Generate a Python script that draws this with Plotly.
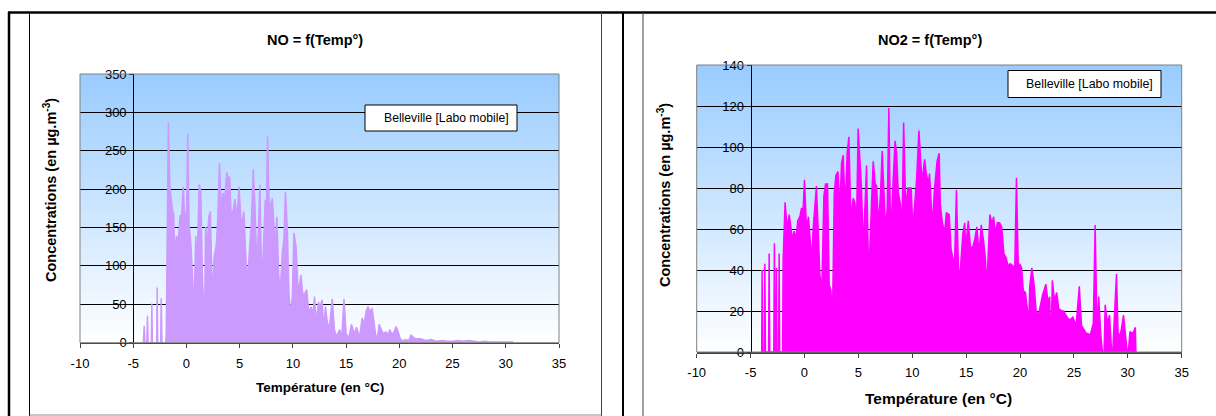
import plotly.graph_objects as go

W, H = 1216, 416

# ---------------- data ----------------
NO_TEMP = [-4.05, -3.97, -3.9, -3.72, -3.66, -3.6, -3.3, -3.25, -3.2, -2.8, -2.75, -2.7,
           -2.42, -2.37, -2.3, -1.95, -1.9, -1.7, -1.56, -1.3, -1.2, -1.1, -0.94, -0.75,
           -0.6, -0.47, -0.3, -0.2, 0.0, 0.12, 0.25, 0.4, 0.56, 0.7, 0.87, 1.0, 1.2, 1.35,
           1.5, 1.7, 1.8, 1.94, 2.1, 2.25, 2.44, 2.6, 2.8, 2.94, 3.1, 3.28, 3.44, 3.6,
           3.78, 3.9, 4.06, 4.2, 4.4, 4.56, 4.75, 4.94, 5.16, 5.4, 5.56, 5.72, 5.94, 6.1,
           6.28, 6.44, 6.6, 6.75, 6.9, 7.06, 7.2, 7.4, 7.5, 7.62, 7.75, 7.9, 8.06, 8.2,
           8.34, 8.5, 8.66, 8.8, 9.0, 9.16, 9.3, 9.47, 9.62, 9.75, 9.94, 10.1, 10.3, 10.5,
           10.75, 10.94, 11.1, 11.3, 11.5, 11.7, 11.9, 12.03, 12.2, 12.4, 12.56, 12.75,
           12.9, 13.06, 13.25, 13.44, 13.7, 13.9, 14.1, 14.4, 14.6, 14.8, 15.0, 15.25,
           15.5, 15.75, 16.0, 16.25, 16.5, 16.7, 16.9, 17.06, 17.25, 17.44, 17.6, 17.8,
           17.97, 18.1, 18.3, 18.5, 18.75, 18.94, 19.1, 19.3, 19.5, 19.7, 19.9, 20.06,
           20.3, 20.56, 20.9, 21.1, 21.4, 21.6, 22.0, 22.5, 23.0, 23.5, 24.0, 24.5, 25.0,
           25.5, 26.0, 26.5, 27.0, 27.5, 28.0, 28.5, 29.0, 29.5, 30.0, 30.65, 30.7]
NO_CONC = [0, 22, 0, 0, 35, 0, 0, 51, 0, 0, 72, 0,
           0, 58, 0, 0, 12, 287, 203, 171, 169, 114, 139, 134,
           166, 164, 203, 173, 156, 272, 153, 132, 90, 38, 139, 106, 206, 197,
           86, 21, 151, 125, 164, 171, 51, 112, 127, 160, 234, 175, 195, 186,
           222, 214, 216, 164, 173, 187, 162, 203, 151, 171, 116, 77, 125, 156,
           226, 177, 103, 143, 206, 90, 112, 186, 164, 269, 190, 173, 188, 160,
           125, 164, 90, 64, 116, 136, 197, 151, 69, 38, 58, 143, 125, 64,
           88, 62, 64, 69, 38, 47, 38, 60, 25, 53, 47, 56,
           17, 47, 25, 21, 57, 17, 8, 17, 8, 57, 12, 6,
           24, 12, 20, 6, 32, 25, 42, 47, 40, 45, 25, 8,
           9, 24, 17, 12, 14, 10, 17, 11, 14, 21, 14, 6,
           2, 4, 3, 10, 6, 5, 5, 3, 4, 2, 3, 2, 2,
           3, 2, 3, 2, 1, 2, 1, 1, 1, 1, 1, 0]

NO2_TEMP = [-3.97, -3.93, -3.88, -3.72, -3.68, -3.62, -3.33, -3.28, -3.22, -2.85, -2.79,
            -2.73, -2.65, -2.6, -2.55, -2.4, -2.35, -2.3, -2.03, -1.98, -1.8, -1.6, -1.42,
            -1.3, -1.11, -0.96, -0.8, -0.62, -0.43, -0.28, -0.12, 0.0, 0.19, 0.37, 0.56,
            0.68, 0.8, 0.96, 1.11, 1.27, 1.42, 1.61, 1.8, 1.95, 2.14, 2.29, 2.45, 2.6,
            2.76, 2.91, 3.1, 3.28, 3.44, 3.59, 3.78, 3.96, 4.12, 4.3, 4.52, 4.67, 4.83,
            4.98, 5.14, 5.29, 5.45, 5.63, 5.76, 5.94, 6.07, 6.29, 6.38, 6.56, 6.69, 6.87,
            7.06, 7.21, 7.37, 7.52, 7.68, 7.83, 7.99, 8.17, 8.4, 8.55, 8.7, 8.9, 9.05, 9.2,
            9.4, 9.6, 9.75, 9.9, 10.05, 10.2, 10.4, 10.62, 10.75, 10.9, 11.15, 11.3, 11.5,
            11.6, 11.8, 11.9, 12.07, 12.3, 12.5, 12.6, 12.8, 13.0, 13.16, 13.43, 13.6, 13.8,
            13.9, 14.1, 14.3, 14.46, 14.7, 14.87, 14.95, 15.2, 15.4, 15.6, 15.8, 16.0, 16.2,
            16.4, 16.6, 16.8, 16.9, 17.2, 17.4, 17.55, 17.7, 17.9, 18.1, 18.3, 18.5, 18.7,
            18.9, 19.1, 19.35, 19.5, 19.67, 19.85, 19.97, 20.15, 20.3, 20.5, 20.7, 20.75,
            20.9, 21.1, 21.3, 21.5, 21.7, 21.95, 22.1, 22.4, 22.6, 22.75, 22.85, 23.0, 23.2,
            23.4, 23.6, 23.9, 24.05, 24.25, 24.5, 24.7, 24.9, 25.2, 25.4, 25.5, 25.7, 25.9,
            26.15, 26.3, 26.5, 26.8, 26.97, 27.15, 27.3, 27.5, 27.65, 27.8, 27.9, 28.1,
            28.3, 28.5, 28.6, 28.95, 29.1, 29.25, 29.4, 29.6, 29.8, 29.95, 30.05, 30.2,
            30.4, 30.55, 30.7, 30.75]
NO2_CONC = [0, 40, 0, 0, 43, 0, 0, 48, 0, 0, 53,
            0, 0, 41, 0, 0, 48, 0, 0, 45, 73, 60, 67,
            61, 55, 59, 55, 64, 66, 70, 70, 84, 60, 66, 55,
            44, 60, 72, 81, 60, 38, 31, 76, 82, 82, 33, 30, 16,
            77, 86, 88, 70, 92, 96, 69, 97, 105, 65, 75, 73, 63,
            109, 95, 80, 50, 73, 91, 40, 51, 82, 93, 82, 81, 62,
            78, 98, 82, 60, 70, 119, 56, 74, 103, 97, 78, 72, 60, 112,
            70, 80, 80, 80, 60, 72, 84, 108, 97, 83, 94, 87, 82,
            87, 68, 65, 80, 93, 97, 72, 63, 58, 68, 67, 50, 45,
            38, 79, 38, 40, 58, 63, 51, 64, 51, 51, 55, 61, 48,
            62, 55, 45, 29, 67, 63, 66, 58, 63, 63, 61, 48, 46,
            42, 43, 42, 38, 85, 38, 43, 41, 30, 29, 20, 0,
            32, 41, 33, 20, 18, 25, 28, 33, 24, 27, 0, 35, 25,
            29, 21, 20, 20, 18, 16, 16, 17, 13, 28, 32, 13, 11,
            9, 9, 8, 14, 62, 8, 27, 8, 0, 0, 23, 14,
            18, 0, 0, 38, 9, 8, 11, 18, 9, 0, 0, 10,
            9, 10, 12, 0]

X_TICKS = [-10, -5, 0, 5, 10, 15, 20, 25, 30, 35]
X_TICK_LABELS = ["-10", "-5", "0", "5", "10", "15", "20", "25", "30", "35"]
NO_Y_TICKS = [0, 50, 100, 150, 200, 250, 300, 350]
NO2_Y_TICKS = [0, 20, 40, 60, 80, 100, 120, 140]

TITLE_NO = "NO = f(Temp°)"
TITLE_NO2 = "NO2 = f(Temp°)"
Y_TITLE = "Concentrations (en µg.m<sup>-3</sup>)"
X_TITLE = "Température (en °C)"
SERIES_NAME = "Belleville [Labo mobile]"

FONT = "Liberation Sans, Arial, sans-serif"


def px(x):
    return x / W


def py(y):
    return 1 - y / H


fig = go.Figure()
fig.add_trace(go.Scatter(x=NO_TEMP, y=NO_CONC, mode="lines", fill="tozeroy",
                         line=dict(color="#CC99FF", width=1.5), fillcolor="#CC99FF",
                         xaxis="x", yaxis="y", showlegend=False, name=SERIES_NAME))
fig.add_trace(go.Scatter(x=NO2_TEMP, y=NO2_CONC, mode="lines", fill="tozeroy",
                         line=dict(color="#FF00FF", width=1.5), fillcolor="#FF00FF",
                         xaxis="x2", yaxis="y2", showlegend=False, name=SERIES_NAME))

# plot geometry (pixels)
L1 = (80, 559, 74, 342.7)     # x0, x1, ytop, ybottom
L2 = (696.7, 1181.7, 65, 352)


def xaxis_cfg(g, size, anchor):
    return dict(domain=[px(g[0]), px(g[1])], range=[-10, 35], tickvals=X_TICKS,
                ticktext=X_TICK_LABELS,
                showgrid=False, zeroline=False, showline=True, linecolor="#404040",
                linewidth=1.5, ticks="outside", ticklen=4, tickcolor="#404040",
                tickfont=dict(size=size, color="black", family=FONT), anchor=anchor,
                ticklabelstandoff=4, fixedrange=True, automargin=False)


def yaxis_cfg(g, rng, tv, size, pos):
    return dict(domain=[py(g[3]), py(g[2])], range=rng, tickvals=tv,
                showgrid=True, gridcolor="black", gridwidth=1, zeroline=False,
                showline=True, linecolor="black", linewidth=1, ticks="outside",
                ticklen=4, tickcolor="black", anchor="free", position=pos,
                tickfont=dict(size=size, color="black", family=FONT), fixedrange=True,
                automargin=False)


fig.update_layout(
    width=W, height=H, margin=dict(l=0, r=0, t=0, b=0, pad=0, autoexpand=False),
    paper_bgcolor="white", plot_bgcolor="rgba(0,0,0,0)",
    font=dict(family=FONT, color="black"),
    xaxis=xaxis_cfg(L1, 13, "y"),
    yaxis=yaxis_cfg(L1, [0, 350], NO_Y_TICKS, 13, px(L1[0] + 5 * (L1[1] - L1[0]) / 45)),
    xaxis2=xaxis_cfg(L2, 13, "y2"),
    yaxis2=yaxis_cfg(L2, [0, 140], NO2_Y_TICKS, 13, px(L2[0] + 5 * (L2[1] - L2[0]) / 45)),
    showlegend=False,
)

shapes = []
# gradient plot backgrounds
N = 60
top = (153, 204, 255)
bot = (255, 255, 255)
for xr, yr in (("x domain", "y domain"), ("x2 domain", "y2 domain")):
    for i in range(N):
        t = (i + 0.5) / N  # 0 bottom -> 1 top
        c = tuple(round(bot[k] + (top[k] - bot[k]) * t) for k in range(3))
        shapes.append(dict(type="rect", xref=xr, yref=yr, x0=0, x1=1,
                           y0=i / N, y1=min(1, (i + 1) / N + 0.003),
                           fillcolor="rgb(%d,%d,%d)" % c, line=dict(width=0), layer="below"))
    shapes.append(dict(type="rect", xref=xr, yref=yr, x0=0, x1=1, y0=0, y1=1,
                       line=dict(color="#808080", width=1), fillcolor="rgba(0,0,0,0)",
                       layer="above"))


def hline(x0, x1, y, color, w):
    shapes.append(dict(type="line", xref="paper", yref="paper", x0=px(x0), x1=px(x1),
                       y0=py(y), y1=py(y), line=dict(color=color, width=w), layer="above"))


def vline(x, y0, y1, color, w):
    shapes.append(dict(type="line", xref="paper", yref="paper", x0=px(x), x1=px(x),
                       y0=py(y0), y1=py(y1), line=dict(color=color, width=w), layer="above"))


# page frame
hline(8, 1216, 12.5, "black", 2.5)
vline(9, 12, 416, "black", 2.5)
vline(29.5, 12, 416, "black", 1)
vline(601.5, 12, 416, "#404040", 1)
vline(623, 12, 416, "black", 2)
vline(643, 12, 416, "#404040", 1)
hline(29.5, 601.5, 415, "#909090", 1)

# legend boxes
shapes.append(dict(type="rect", xref="paper", yref="paper", x0=px(365), x1=px(517),
                   y0=py(131), y1=py(105), line=dict(color="black", width=1),
                   fillcolor="white", layer="above"))
shapes.append(dict(type="rect", xref="paper", yref="paper", x0=px(1008), x1=px(1161),
                   y0=py(97.5), y1=py(70.5), line=dict(color="black", width=1),
                   fillcolor="white", layer="above"))
fig.update_layout(shapes=shapes)

ann = []


def text(x, y, s, size, bold=False, angle=0, xanchor="center"):
    ann.append(dict(x=px(x), y=py(y), xref="paper", yref="paper", showarrow=False,
                    text="<b>%s</b>" % s if bold else s, textangle=angle,
                    xanchor=xanchor, yanchor="middle",
                    font=dict(size=size, color="black", family=FONT)))


text(315, 40, TITLE_NO, 14.5, True)
text(930, 40, TITLE_NO2, 14.5, True)
text(50, 190, Y_TITLE, 14.5, True, -90)
text(664, 195, Y_TITLE, 14.5, True, -90)
text(320, 387, X_TITLE, 13.5, True)
text(938, 398, X_TITLE, 15.5, True)
text(382, 117.5, SERIES_NAME, 12.2, xanchor="left")
text(1024, 84, SERIES_NAME, 12.4, xanchor="left")
fig.update_layout(annotations=ann)

fig.write_html("out.html", config={"displayModeBar": False, "staticPlot": True},
               post_script="document.body.style.margin='0';"
                           "document.body.style.padding='0';"
                           "document.documentElement.style.overflow='hidden';")
